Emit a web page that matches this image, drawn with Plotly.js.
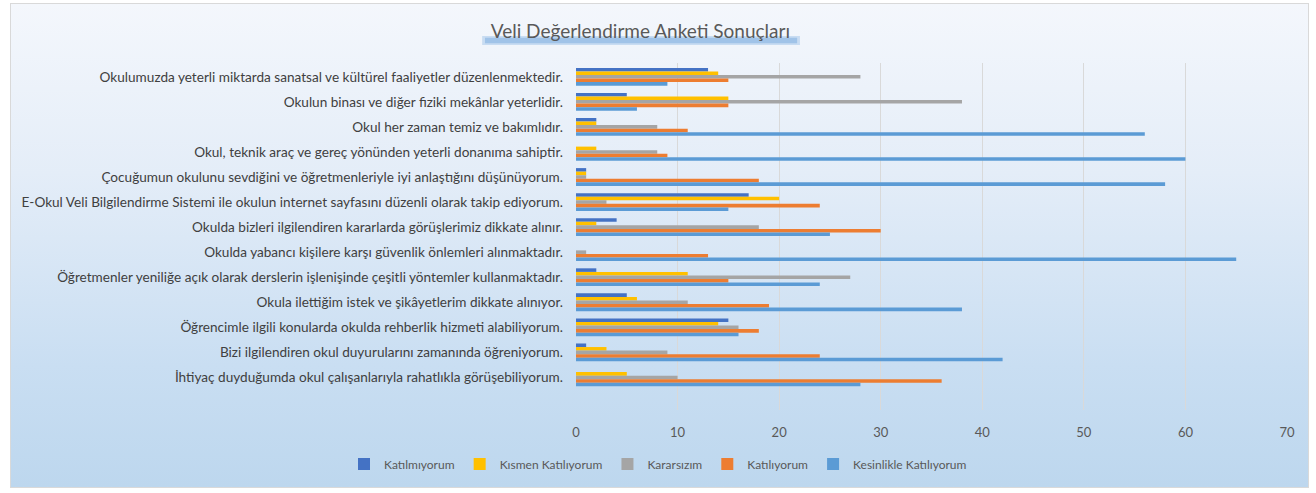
<!DOCTYPE html>
<html>
<head>
<meta charset="utf-8">
<script src="https://cdn.plot.ly/plotly-3.0.1.min.js"></script>
<style>
  html, body { margin: 0; padding: 0; background: #ffffff; }
  #wrap { position: relative; width: 1316px; height: 493px; }
  #bg { position: absolute; left: 10px; top: 3px; width: 1297px; height: 483px;
        border: 1px solid #d9d9d9;
        background: linear-gradient(to bottom, #f4f7fc 0%, #e4edf8 35%, #c9def2 75%, #bdd7ee 100%); }
  #chart { position: absolute; left: 0; top: 0; width: 1316px; height: 493px; }
</style>
</head>
<body>
<div id="wrap">
  <div id="bg"></div>
  <div id="chart"></div>
</div>
<script>
const categories = [
  "Okulumuzda yeterli miktarda sanatsal ve kültürel faaliyetler düzenlenmektedir.",
  "Okulun binası ve diğer fiziki mekânlar yeterlidir.",
  "Okul her zaman temiz ve bakımlıdır.",
  "Okul, teknik araç ve gereç yönünden yeterli donanıma sahiptir.",
  "Çocuğumun okulunu sevdiğini ve öğretmenleriyle iyi anlaştığını düşünüyorum.",
  "E-Okul Veli Bilgilendirme Sistemi ile okulun internet sayfasını düzenli olarak takip ediyorum.",
  "Okulda bizleri ilgilendiren kararlarda görüşlerimiz dikkate alınır.",
  "Okulda yabancı kişilere karşı güvenlik önlemleri alınmaktadır.",
  "Öğretmenler yeniliğe açık olarak derslerin işlenişinde çeşitli yöntemler kullanmaktadır.",
  "Okula ilettiğim istek ve şikâyetlerim dikkate alınıyor.",
  "Öğrencimle ilgili konularda okulda rehberlik hizmeti alabiliyorum.",
  "Bizi ilgilendiren okul duyurularını zamanında öğreniyorum.",
  "İhtiyaç duyduğumda okul çalışanlarıyla rahatlıkla görüşebiliyorum."
];
const seriesNames = ["Katılmıyorum", "Kısmen Katılıyorum", "Kararsızım", "Katılıyorum", "Kesinlikle Katılıyorum"];
const katilmiyorum = [13, 5, 2, 0, 1, 17, 4, 0, 2, 5, 15, 1, 0];
const kismenKatiliyorum = [14, 15, 2, 2, 1, 20, 2, 0, 11, 6, 14, 3, 5];
const kararsizim = [28, 38, 8, 8, 1, 3, 18, 1, 27, 11, 16, 9, 10];
const katiliyorum = [15, 15, 11, 9, 18, 24, 30, 13, 15, 19, 18, 24, 36];
const kesinlikleKatiliyorum = [9, 6, 56, 60, 58, 15, 25, 65, 24, 38, 16, 42, 28];
const xTickValues = [0, 10, 20, 30, 40, 50, 60, 70];

const seriesValues = [katilmiyorum, kismenKatiliyorum, kararsizim, katiliyorum, kesinlikleKatiliyorum];
const colors = ["#4472C4", "#FFC000", "#A5A5A5", "#ED7D31", "#5B9BD5"];

const traces = seriesValues.map((vals, i) => ({
  type: "bar",
  orientation: "h",
  name: seriesNames[i],
  x: vals,
  y: categories,
  marker: { color: colors[i] },
  hoverinfo: "x+name"
}));

const layout = {
  width: 1316,
  height: 493,
  margin: { l: 576, r: 29, t: 63, b: 83, pad: 0 },
  paper_bgcolor: "rgba(0,0,0,0)",
  plot_bgcolor: "rgba(0,0,0,0)",
  font: { family: "Lato, 'Open Sans', sans-serif", color: "#404040" },
  barmode: "group",
  bargap: 0.29,
  bargroupgap: 0,
  title: {
    text: "Veli Değerlendirme Anketi Sonuçları",
    font: { family: "Lato, 'Open Sans', sans-serif", size: 19, color: "#595959" },
    x: 0.4866, xref: "container", xanchor: "center",
    y: 0.936, yref: "container", yanchor: "middle"
  },
  xaxis: {
    range: [0, 70],
    tickvals: xTickValues,
    ticktext: xTickValues.map(String),
    showgrid: true,
    gridcolor: "#d9d9d9",
    gridwidth: 1,
    zeroline: false,
    showline: false,
    ticks: "",
    ticklabelstandoff: 13,
    tickfont: { size: 13, color: "#595959" },
    fixedrange: true
  },
  yaxis: {
    type: "category",
    categoryorder: "array",
    categoryarray: categories,
    range: [13.3, -0.55],
    showgrid: false,
    zeroline: false,
    showline: false,
    ticks: "",
    ticklabelstandoff: 12,
    tickfont: { size: 13.6, color: "#404040" },
    fixedrange: true
  },
  legend: {
    orientation: "h",
    xref: "container", yref: "container",
    x: 0.5, xanchor: "center",
    y: 0.059, yanchor: "middle",
    font: { size: 12, color: "#595959" },
    bgcolor: "rgba(0,0,0,0)",
    itemwidth: 30,
    traceorder: "normal"
  },
  shapes: [
    { type: "rect", xref: "paper", yref: "paper",
      x0: -0.132, x1: 0.315, y0: 1.052, y1: 1.078,
      fillcolor: "rgba(150,190,230,0.45)", line: { width: 0 }, layer: "below" },
    { type: "rect", xref: "paper", yref: "paper",
      x0: -0.128, x1: 0.311, y0: 1.057, y1: 1.073,
      fillcolor: "rgba(110,165,220,0.45)", line: { width: 0 }, layer: "below" }
  ],
  showlegend: true
};

Plotly.newPlot("chart", traces, layout, { displayModeBar: false, staticPlot: true });
</script>
</body>
</html>
